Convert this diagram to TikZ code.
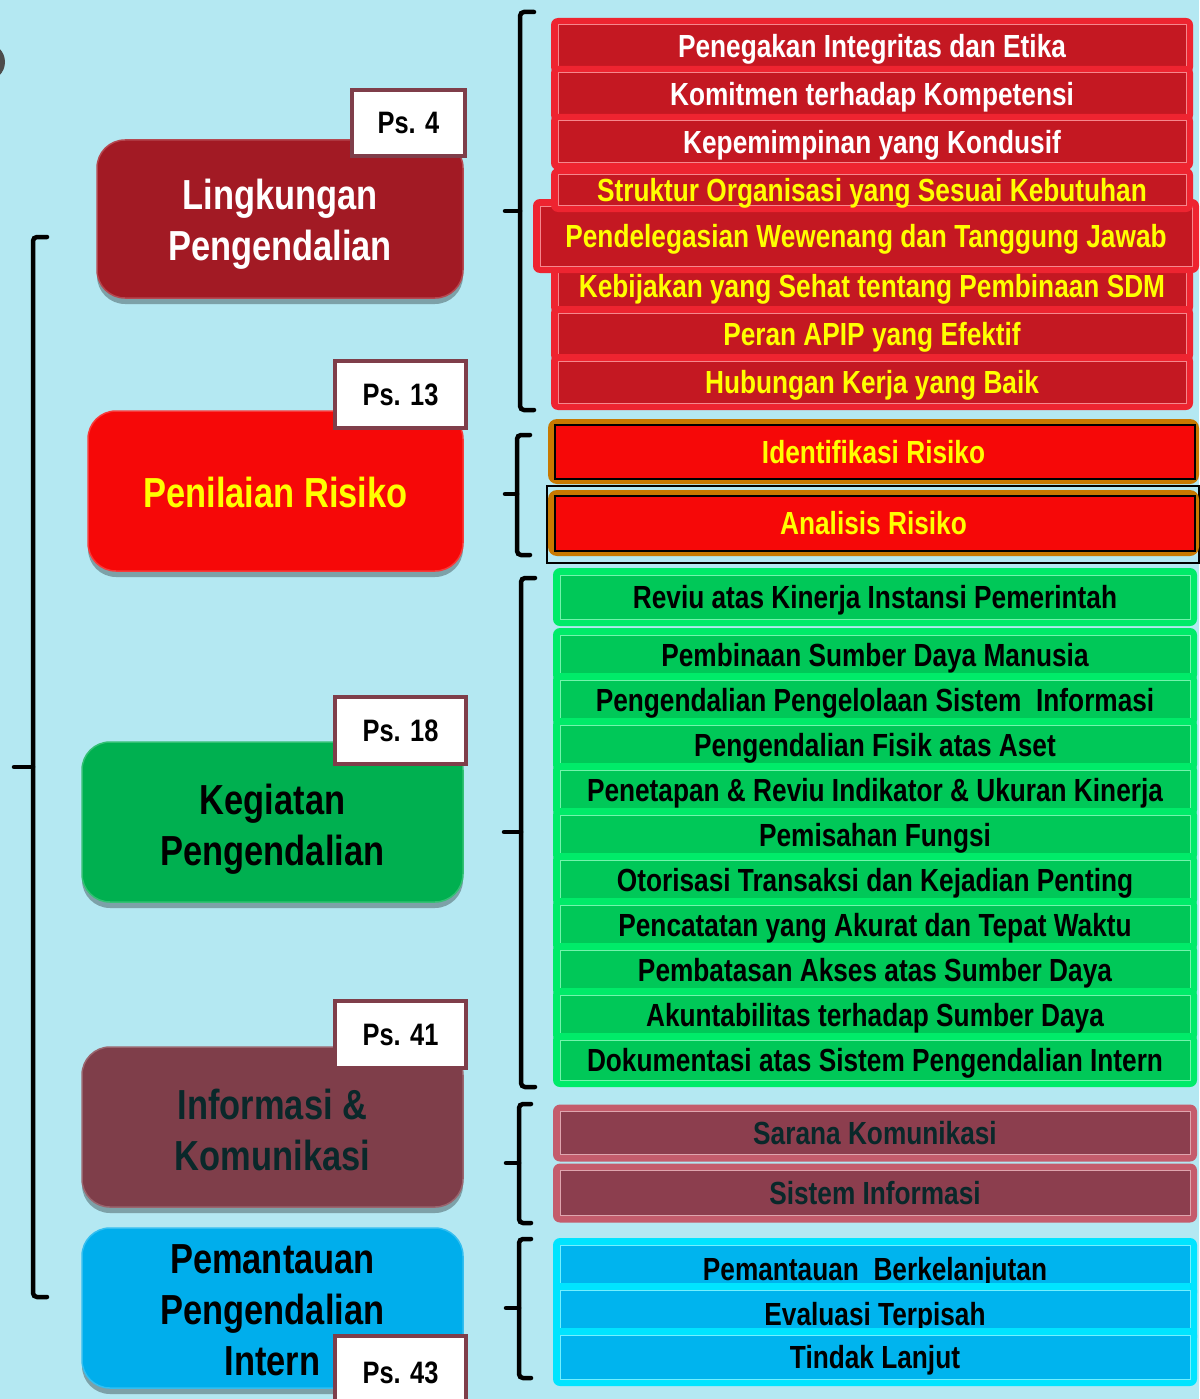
\documentclass[tikz,border=0pt]{standalone}
\usepackage{fontspec}
\newfontfamily\nar[FakeStretch=0.82]{Liberation Sans}
\usetikzlibrary{shadows}
\definecolor{bg}{RGB}{180,232,242}
\definecolor{ylw}{RGB}{255,255,0}
\definecolor{dkred}{RGB}{162,26,36}
\definecolor{brred}{RGB}{246,8,8}
\definecolor{mgreen}{RGB}{0,176,80}
\definecolor{mauve}{RGB}{127,62,74}
\definecolor{mcyan}{RGB}{0,174,236}
\definecolor{dteal}{RGB}{10,40,42}
\definecolor{redrim}{RGB}{238,36,48}
\definecolor{redin}{RGB}{196,24,34}
\definecolor{orim}{RGB}{200,120,0}
\definecolor{grim}{RGB}{0,235,105}
\definecolor{gin}{RGB}{0,200,88}
\definecolor{mrim}{RGB}{196,92,108}
\definecolor{min}{RGB}{140,62,78}
\definecolor{crim}{RGB}{0,228,255}
\definecolor{cin}{RGB}{0,180,238}
\tikzset{
  mainbox/.style={rounded corners=28pt, align=center, inner sep=0pt,
    font=\nar\bfseries\fontsize{42}{51}\selectfont,
    drop shadow={shadow xshift=0pt,shadow yshift=-6pt,opacity=.3,fill=black},
    fill=#1, draw=#1!80!white, line width=1.5pt},
  pslabel/.style={draw=mauve, line width=4pt, fill=white, inner sep=0pt,
    font=\nar\bfseries\fontsize{31}{36}\selectfont, text=black},
  item/.style 2 args={rounded corners=7pt, inner sep=0pt, minimum width=644pt,
    text height=23pt, text depth=0pt, font=\nar\bfseries\fontsize{32}{36}\selectfont,
    fill=#1,
    path picture={\fill[sharp corners,#2,draw=#1!55!white,line width=1pt]
      ([shift={(7pt,-7pt)}]path picture bounding box.north west) rectangle ([shift={(-7pt,7pt)}]path picture bounding box.south east);}},
  riskbox/.style={rounded corners=9pt, inner sep=0pt, minimum width=651pt, fill=orim,
    text height=23pt, text depth=0pt, font=\nar\bfseries\fontsize{32}{36}\selectfont, text=ylw,
    path picture={\fill[sharp corners,brred,draw=black,line width=2pt]
      ([shift={(7pt,-6pt)}]path picture bounding box.north west) rectangle ([shift={(-4pt,5pt)}]path picture bounding box.south east);}},
  brace/.style={line width=4.5pt, line cap=round, rounded corners=4pt}
}
\begin{document}
\begin{tikzpicture}[x=1pt,y=-1pt]
\useasboundingbox (0,0) rectangle (1199,1399);
\fill[bg] (0,0) rectangle (1199,1399);
% partial dark disk at left edge
\fill[black!70] (-14,62) circle (19pt);

% big left bracket
\draw[brace] (47,237) -- (33,237) -- (33,1297) -- (47,1297);
\draw[brace] (33,767) -- (14,767);

% main boxes
\node[mainbox=dkred, text=white, minimum width=366pt, minimum height=158pt] (lp) at (280,219) {\rule{0pt}{41pt}Lingkungan\\Pengendalian};
\node[mainbox=brred, text=ylw, minimum width=375pt, minimum height=160pt] (pr) at (275.5,491) {\rule{0pt}{33pt}Penilaian Risiko};
\node[mainbox=mgreen, text=black, minimum width=381pt, minimum height=160pt] (kp) at (272.5,822) {\rule{0pt}{45pt}Kegiatan\\Pengendalian};
\node[mainbox=mauve, text=dteal, minimum width=381pt, minimum height=160pt] (ik) at (272.5,1127) {\rule{0pt}{37pt}Informasi \&\\Komunikasi};
\node[mainbox=mcyan, text=black, minimum width=381pt, minimum height=160pt] (pp) at (272.5,1308) {\rule{0pt}{34pt}Pemantauan\\Pengendalian\\Intern};

% Ps labels
\node[pslabel, minimum width=113pt, minimum height=66pt] (ps4) at (408.5,123) {Ps. 4};
\node[pslabel, minimum width=131pt, minimum height=67pt] (ps13) at (400.5,394.5) {Ps. 13};
\node[pslabel, minimum width=131pt, minimum height=67pt] (ps18) at (400.5,730.5) {Ps. 18};
\node[pslabel, minimum width=131pt, minimum height=67pt] (ps41) at (400.5,1034.5) {Ps. 41};
\node[pslabel, minimum width=131pt, minimum height=74pt] (ps43) at (400.5,1373) {Ps. 43};

% right brackets
\draw[brace] (534,12) -- (520,12) -- (520,410) -- (534,410);
\draw[brace] (520,211) -- (505,211);
\draw[brace] (530,435) -- (517,435) -- (517,555) -- (530,555);
\draw[brace] (517,494) -- (505,494);
\draw[brace] (535,578) -- (521,578) -- (521,1087) -- (535,1087);
\draw[brace] (521,832) -- (504,832);
\draw[brace] (531,1104) -- (519,1104) -- (519,1223) -- (531,1223);
\draw[brace] (519,1163) -- (506,1163);
\draw[brace] (531,1239) -- (519,1239) -- (519,1378) -- (531,1378);
\draw[brace] (519,1308) -- (506,1308);

% red items
\foreach \n/\yc/\txt/\tc in {1/46/Penegakan Integritas dan Etika/white,
  2/94/Komitmen terhadap Kompetensi/white,
  3/142/Kepemimpinan yang Kondusif/white,
  6/286/Kebijakan yang Sehat tentang Pembinaan SDM/ylw,
  7/334/Peran APIP yang Efektif/ylw,
  8/382/Hubungan Kerja yang Baik/ylw}
  \node[item={redrim}{redin}, text=\tc, minimum width=642pt, minimum height=56pt] (r\n) at (872,\yc) {\txt};
\node[item={redrim}{redin}, text=ylw, minimum width=666pt, minimum height=74pt] (r5) at (866,236) {Pendelegasian Wewenang dan Tanggung Jawab};
\node[item={redrim}{redin}, text=ylw, minimum width=642pt, minimum height=44pt] (r4) at (872,190) {Struktur Organisasi yang Sesuai Kebutuhan};

% risk items
\node[riskbox, minimum height=65pt] (ir) at (873.5,451.5) {Identifikasi Risiko};
\node[draw=black, line width=1.2pt, minimum width=652pt, minimum height=77pt, inner sep=0pt] (arframe) at (873,524.5) {};
\node[riskbox, minimum height=66pt] (ar) at (873.5,523) {Analisis Risiko};

% green items
\node[item={grim}{gin}, text=black, minimum height=58pt] (g1) at (875,597) {Reviu atas Kinerja Instansi Pemerintah};
\foreach \n/\yc/\txt in {2/655/Pembinaan Sumber Daya Manusia,
  3/700/Pengendalian Pengelolaan Sistem~ Informasi,
  4/745/Pengendalian Fisik atas Aset,
  5/790/Penetapan \& Reviu Indikator \& Ukuran Kinerja,
  6/835/Pemisahan Fungsi,
  7/880/Otorisasi Transaksi dan Kejadian Penting,
  8/925/Pencatatan yang Akurat dan Tepat Waktu,
  9/970/Pembatasan Akses atas Sumber Daya,
  10/1015/Akuntabilitas terhadap Sumber Daya,
  11/1060/Dokumentasi atas Sistem Pengendalian Intern}
  \node[item={grim}{gin}, text=black, minimum height=54pt] (g\n) at (875,\yc) {\txt};

% mauve items
\node[item={mrim}{min}, text=dteal, minimum height=57pt] (m1) at (875,1133) {Sarana Komunikasi};
\node[item={mrim}{min}, text=dteal, minimum height=59pt] (m2) at (875,1193) {Sistem Informasi};

% cyan items
\node[item={crim}{cin}, text=black, minimum height=62pt] (c1) at (875,1269) {Pemantauan~ Berkelanjutan};
\node[item={crim}{cin}, text=black, minimum height=62pt] (c2) at (875,1314) {Evaluasi Terpisah};
\node[item={crim}{cin}, text=black, minimum height=58pt] (c3) at (875,1357) {Tindak Lanjut};
\end{tikzpicture}
\end{document}
